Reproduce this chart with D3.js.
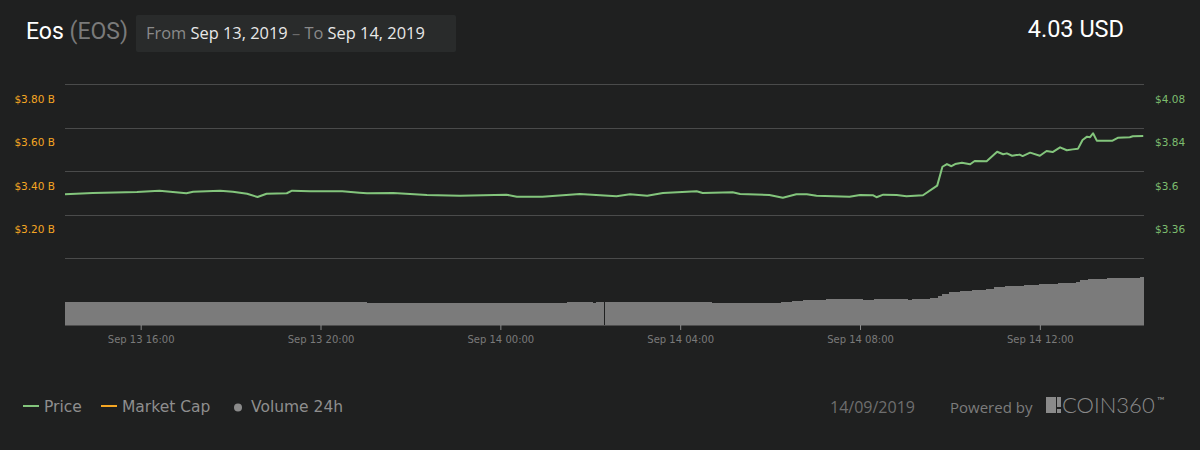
<!DOCTYPE html>
<html>
<head>
<meta charset="utf-8">
<script src="https://cdn.jsdelivr.net/npm/d3@7"></script>
<style>
  html, body { margin: 0; padding: 0; background: #1f2020; }
  svg { display: block; }
</style>
</head>
<body>
<div id="plot"></div>
<script>
// price (USD)
const priceTimes = [
  "2019-09-13 14:19", "2019-09-13 14:56", "2019-09-13 15:55", "2019-09-13 16:25", "2019-09-13 17:01",
  "2019-09-13 17:10", "2019-09-13 17:46", "2019-09-13 18:03", "2019-09-13 18:22", "2019-09-13 18:36",
  "2019-09-13 18:48", "2019-09-13 19:15", "2019-09-13 19:22", "2019-09-13 19:46", "2019-09-13 20:29",
  "2019-09-13 20:52", "2019-09-13 21:02", "2019-09-13 21:37", "2019-09-13 22:22", "2019-09-13 23:06",
  "2019-09-14 00:08", "2019-09-14 00:22", "2019-09-14 00:56", "2019-09-14 01:46", "2019-09-14 02:35",
  "2019-09-14 02:53", "2019-09-14 03:16", "2019-09-14 03:37", "2019-09-14 04:22", "2019-09-14 04:30",
  "2019-09-14 05:10", "2019-09-14 05:20", "2019-09-14 05:59", "2019-09-14 06:17", "2019-09-14 06:35",
  "2019-09-14 06:49", "2019-09-14 07:02", "2019-09-14 07:46", "2019-09-14 08:00", "2019-09-14 08:17",
  "2019-09-14 08:22", "2019-09-14 08:31", "2019-09-14 08:49", "2019-09-14 09:02", "2019-09-14 09:24",
  "2019-09-14 09:43", "2019-09-14 09:50", "2019-09-14 09:56", "2019-09-14 10:02", "2019-09-14 10:07",
  "2019-09-14 10:16", "2019-09-14 10:27", "2019-09-14 10:33", "2019-09-14 10:49", "2019-09-14 11:03",
  "2019-09-14 11:11", "2019-09-14 11:16", "2019-09-14 11:23", "2019-09-14 11:33", "2019-09-14 11:37",
  "2019-09-14 11:47", "2019-09-14 12:00", "2019-09-14 12:09", "2019-09-14 12:17", "2019-09-14 12:27",
  "2019-09-14 12:36", "2019-09-14 12:44", "2019-09-14 12:51", "2019-09-14 12:57", "2019-09-14 13:03",
  "2019-09-14 13:07", "2019-09-14 13:11", "2019-09-14 13:16", "2019-09-14 13:37", "2019-09-14 13:44",
  "2019-09-14 14:00", "2019-09-14 14:04", "2019-09-14 14:18"
];
const priceValues = [
  3.473, 3.480, 3.486, 3.493, 3.479,
  3.487, 3.493, 3.487, 3.476, 3.458,
  3.476, 3.479, 3.493, 3.490, 3.490,
  3.482, 3.479, 3.480, 3.469, 3.465,
  3.471, 3.460, 3.460, 3.475, 3.462,
  3.473, 3.465, 3.480, 3.490, 3.480,
  3.484, 3.475, 3.469, 3.454, 3.473,
  3.473, 3.465, 3.460, 3.469, 3.468,
  3.457, 3.471, 3.469, 3.462, 3.468,
  3.521, 3.625, 3.640, 3.628, 3.640,
  3.647, 3.639, 3.657, 3.655, 3.708,
  3.694, 3.699, 3.686, 3.692, 3.684,
  3.703, 3.686, 3.712, 3.706, 3.732,
  3.716, 3.721, 3.725, 3.773, 3.791,
  3.788, 3.810, 3.769, 3.769, 3.785,
  3.788, 3.793, 3.795
];

// volume 24h (billions USD), step starts; null = missing sample
const volumeTimes = [
  "2019-09-13 14:19", "2019-09-13 20:04", "2019-09-13 21:02", "2019-09-14 01:29", "2019-09-14 02:03",
  "2019-09-14 02:08", "2019-09-14 02:18", "2019-09-14 02:19", "2019-09-14 04:42", "2019-09-14 06:14",
  "2019-09-14 06:29", "2019-09-14 06:44", "2019-09-14 07:14", "2019-09-14 08:04", "2019-09-14 08:18",
  "2019-09-14 09:04", "2019-09-14 09:09", "2019-09-14 09:33", "2019-09-14 09:44", "2019-09-14 09:50",
  "2019-09-14 09:59", "2019-09-14 10:13", "2019-09-14 10:29", "2019-09-14 10:48", "2019-09-14 10:59",
  "2019-09-14 11:13", "2019-09-14 11:39", "2019-09-14 11:59", "2019-09-14 12:24", "2019-09-14 12:48",
  "2019-09-14 12:53", "2019-09-14 13:04", "2019-09-14 13:29", "2019-09-14 14:14"
];
const volumeValues = [
  1.030, 1.052, 0.999, 1.030, 0.999,
  1.030, null, 1.030, 0.985, 1.030,
  1.075, 1.120, 1.164, 1.120, 1.164,
  1.133, 1.178, 1.209, 1.299, 1.402,
  1.478, 1.523, 1.567, 1.612, 1.688,
  1.733, 1.778, 1.823, 1.867, 1.926,
  2.002, 2.060, 2.105, 2.150
];

const priceTicks = [3.12, 3.36, 3.6, 3.84, 4.08];
const priceTickLabels = ["", "$3.36", "$3.6", "$3.84", "$4.08"];
const capTicks = [3.0, 3.2, 3.4, 3.6, 3.8];
const capTickLabels = ["", "$3.20 B", "$3.40 B", "$3.60 B", "$3.80 B"];
const timeStart = "2019-09-13 14:19";
const timeEnd = "2019-09-14 14:19";

const width = 1200, height = 450;
const parse = d3.timeParse("%Y-%m-%d %H:%M");

const svg = d3.select("#plot").append("svg")
  .attr("width", width)
  .attr("height", height);

svg.append("rect").attr("width", width).attr("height", height).attr("fill", "#1f2020");

const x = d3.scaleTime()
  .domain([parse(timeStart), parse(timeEnd)])
  .range([65, 1144]);

const yPrice = d3.scaleLinear().domain([3.12, 4.08]).range([258.3, 84.3]);
const yCap = d3.scaleLinear().domain([3.0, 3.8]).range([258.3, 84.3]);
const yVol = d3.scaleLinear().domain([0, 3]).range([325, 258]);

// header
const head = svg.append("g");
head.append("text")
  .attr("x", 26).attr("y", 39)
  .style("font-family", "Roboto").style("font-size", "23px")
  .call(t => {
    t.append("tspan").attr("fill", "#ffffff").text("Eos ");
    t.append("tspan").attr("fill", "#7a7a7a").text("(EOS)");
  });

head.append("rect")
  .attr("x", 136).attr("y", 15).attr("width", 320).attr("height", 37)
  .attr("rx", 2).attr("fill", "#292b2b");

head.append("text")
  .attr("x", 146).attr("y", 39)
  .style("font-family", "Open Sans").style("font-size", "16.4px")
  .call(t => {
    t.append("tspan").attr("fill", "#8a8a8a").text("From ");
    t.append("tspan").attr("fill", "#e8e8e8").text("Sep 13, 2019");
    t.append("tspan").attr("fill", "#6a6a6a").text(" – ");
    t.append("tspan").attr("fill", "#8a8a8a").text("To ");
    t.append("tspan").attr("fill", "#e8e8e8").text("Sep 14, 2019");
  });

head.append("text")
  .attr("x", 1124).attr("y", 37)
  .attr("text-anchor", "end")
  .attr("fill", "#ffffff")
  .style("font-family", "Roboto").style("font-size", "23.5px")
  .text("4.03 USD");

// grid
svg.append("g")
  .selectAll("line")
  .data(priceTicks)
  .join("line")
  .attr("x1", 65).attr("x2", 1144)
  .attr("y1", d => Math.round(yPrice(d)) + 0.5)
  .attr("y2", d => Math.round(yPrice(d)) + 0.5)
  .attr("stroke", "#4a4b4b")
  .attr("stroke-width", 1);

// left axis: market cap
svg.append("g")
  .selectAll("text")
  .data(capTicks)
  .join("text")
  .attr("x", 55)
  .attr("y", d => yCap(d) + 18.5)
  .attr("text-anchor", "end")
  .attr("fill", "#f5a623")
  .style("font-family", "DejaVu Sans").style("font-size", "10.5px")
  .text((d, i) => capTickLabels[i]);

// right axis: price
svg.append("g")
  .selectAll("text")
  .data(priceTicks)
  .join("text")
  .attr("x", 1155)
  .attr("y", d => yPrice(d) + 18.5)
  .attr("fill", "#7dbd6f")
  .style("font-family", "DejaVu Sans").style("font-size", "10.5px")
  .text((d, i) => priceTickLabels[i]);

// volume columns
const volData = volumeTimes.map((t, i) => ({
  t0: parse(t),
  t1: i < volumeTimes.length - 1 ? parse(volumeTimes[i + 1]) : parse(timeEnd),
  v: volumeValues[i]
})).filter(d => d.v !== null);

svg.append("g")
  .attr("shape-rendering", "crispEdges")
  .selectAll("rect")
  .data(volData)
  .join("rect")
  .attr("x", d => x(d.t0))
  .attr("width", d => x(d.t1) - x(d.t0))
  .attr("y", d => yVol(d.v))
  .attr("height", d => yVol(0) - yVol(d.v))
  .attr("fill", "#7b7b7b");

// x axis
const xAxis = svg.append("g")
  .attr("transform", "translate(0,325)")
  .call(d3.axisBottom(x)
    .ticks(d3.timeHour.every(4))
    .tickSize(5)
    .tickFormat(d3.timeFormat("%b %d %H:%M")));
xAxis.select(".domain").attr("stroke", "#4d4d4d").attr("d", "M65,0.5H1144");
xAxis.selectAll(".tick line").attr("stroke", "#8a8a8a");
xAxis.selectAll(".tick text")
  .attr("fill", "#7a7a7a")
  .attr("dy", "0.95em")
  .style("font-family", "DejaVu Sans").style("font-size", "10px");

// price line
const priceData = priceTimes.map((t, i) => ({ t: parse(t), v: priceValues[i] }));
svg.append("path")
  .datum(priceData)
  .attr("fill", "none")
  .attr("stroke", "#83c57c")
  .attr("stroke-width", 2)
  .attr("stroke-linejoin", "round")
  .attr("d", d3.line().x(d => x(d.t)).y(d => yPrice(d.v)));

// legend
const legend = svg.append("g")
  .style("font-family", "DejaVu Sans").style("font-size", "15.5px");
legend.append("line").attr("x1", 23).attr("x2", 39).attr("y1", 406).attr("y2", 406)
  .attr("stroke", "#83c57c").attr("stroke-width", 2);
legend.append("text").attr("x", 44).attr("y", 411.5).attr("fill", "#8e8e8e").text("Price");
legend.append("line").attr("x1", 101).attr("x2", 117).attr("y1", 406).attr("y2", 406)
  .attr("stroke", "#f5a623").attr("stroke-width", 2);
legend.append("text").attr("x", 122).attr("y", 411.5).attr("fill", "#8e8e8e").text("Market Cap");
legend.append("circle").attr("cx", 238).attr("cy", 407.5).attr("r", 4).attr("fill", "#8a8a8a");
legend.append("text").attr("x", 251).attr("y", 411.5).attr("fill", "#8e8e8e").text("Volume 24h");

// footer right
const foot = svg.append("g").style("font-family", "Open Sans");
foot.append("text").attr("x", 830).attr("y", 413).attr("fill", "#6e6e6e")
  .style("font-size", "16px").text("14/09/2019");
foot.append("text").attr("x", 950).attr("y", 413).attr("fill", "#7c7c7c")
  .style("font-size", "15px").text("Powered by");
foot.append("rect").attr("x", 1046).attr("y", 397).attr("width", 10).attr("height", 16).attr("fill", "#8a8a8a");
foot.append("rect").attr("x", 1057).attr("y", 397).attr("width", 4).attr("height", 10).attr("fill", "#8a8a8a");
foot.append("rect").attr("x", 1057).attr("y", 409).attr("width", 4).attr("height", 4).attr("fill", "#8a8a8a");
foot.append("text").attr("x", 1062).attr("y", 413).attr("fill", "#8a8a8a")
  .style("font-family", "Lato").style("font-weight", 300).style("font-size", "22px")
  .text("COIN360");
foot.append("text").attr("x", 1157).attr("y", 404).attr("fill", "#8a8a8a")
  .style("font-family", "Lato").style("font-size", "10px").text("™");
</script>
</body>
</html>
